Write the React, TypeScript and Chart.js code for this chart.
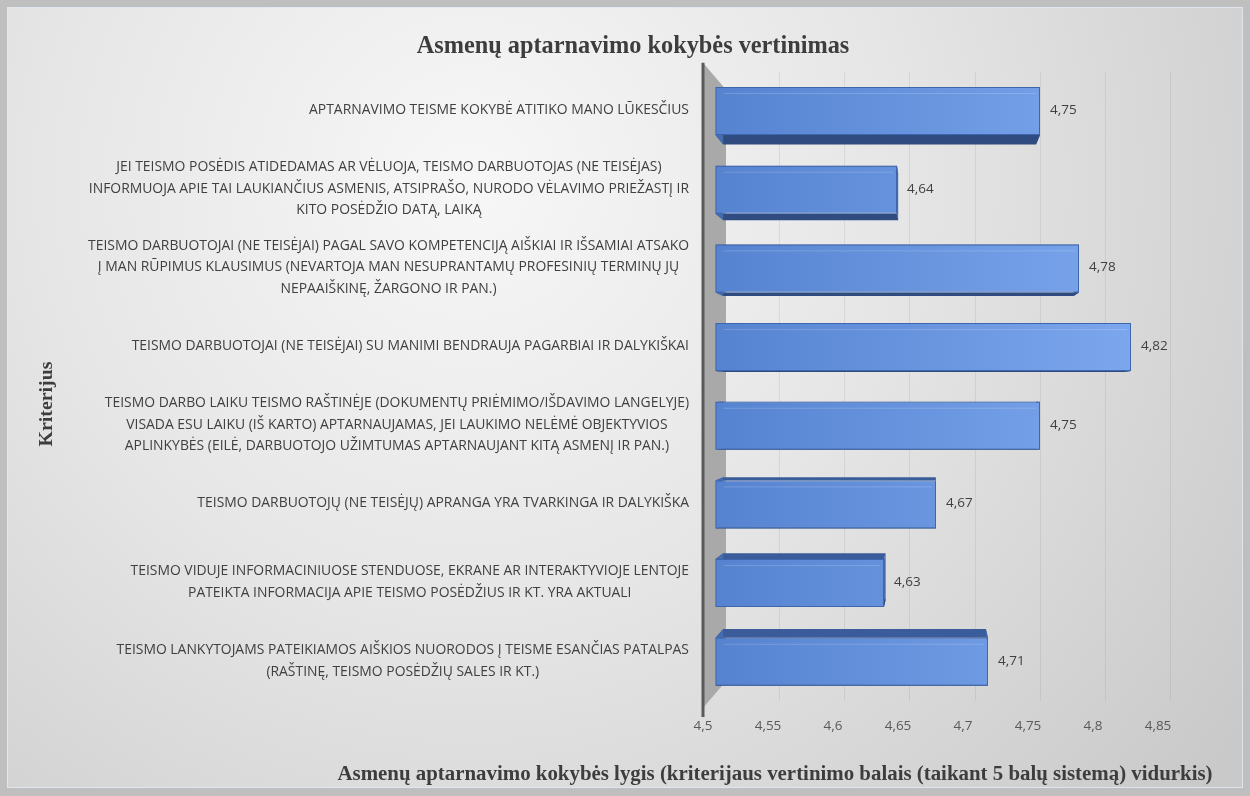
import { useEffect, useRef } from "react";
import { Chart, registerables } from "chart.js";

Chart.register(...registerables);

const chartTitle = "Asmenų aptarnavimo kokybės vertinimas";
const xAxisTitle =
  "Asmenų aptarnavimo kokybės lygis (kriterijaus vertinimo balais (taikant 5 balų sistemą) vidurkis)";
const yAxisTitle = "Kriterijus";

const categories: string[][] = [
  ["APTARNAVIMO TEISME KOKYBĖ ATITIKO MANO LŪKESČIUS"],
  [
    "JEI TEISMO POSĖDIS ATIDEDAMAS AR VĖLUOJA, TEISMO DARBUOTOJAS (NE TEISĖJAS)",
    "INFORMUOJA APIE TAI LAUKIANČIUS ASMENIS, ATSIPRAŠO, NURODO VĖLAVIMO PRIEŽASTĮ IR",
    "KITO POSĖDŽIO DATĄ, LAIKĄ",
  ],
  [
    "TEISMO DARBUOTOJAI (NE TEISĖJAI) PAGAL SAVO KOMPETENCIJĄ AIŠKIAI IR IŠSAMIAI ATSAKO",
    "Į MAN RŪPIMUS KLAUSIMUS (NEVARTOJA MAN NESUPRANTAMŲ PROFESINIŲ TERMINŲ JŲ",
    "NEPAAIŠKINĘ, ŽARGONO IR PAN.)",
  ],
  ["TEISMO DARBUOTOJAI (NE TEISĖJAI) SU MANIMI BENDRAUJA PAGARBIAI IR DALYKIŠKAI"],
  [
    "TEISMO DARBO LAIKU TEISMO RAŠTINĖJE (DOKUMENTŲ PRIĖMIMO/IŠDAVIMO LANGELYJE)",
    "VISADA ESU LAIKU (IŠ KARTO) APTARNAUJAMAS, JEI LAUKIMO NELĖMĖ OBJEKTYVIOS",
    "APLINKYBĖS (EILĖ, DARBUOTOJO UŽIMTUMAS APTARNAUJANT KITĄ ASMENĮ IR PAN.)",
  ],
  ["TEISMO DARBUOTOJŲ (NE TEISĖJŲ) APRANGA YRA TVARKINGA IR DALYKIŠKA"],
  [
    "TEISMO VIDUJE INFORMACINIUOSE STENDUOSE, EKRANE AR INTERAKTYVIOJE LENTOJE",
    "PATEIKTA INFORMACIJA APIE TEISMO POSĖDŽIUS IR KT. YRA AKTUALI",
  ],
  [
    "TEISMO LANKYTOJAMS PATEIKIAMOS AIŠKIOS NUORODOS Į TEISME ESANČIAS PATALPAS",
    "(RAŠTINĘ, TEISMO POSĖDŽIŲ SALES IR KT.)",
  ],
];

const values: number[] = [4.75, 4.64, 4.78, 4.82, 4.75, 4.67, 4.63, 4.71];

const xTickLabels: string[] = ["4,5", "4,55", "4,6", "4,65", "4,7", "4,75", "4,8", "4,85"];
const xMin = 4.5;
const xMax = 4.85;
const xStep = 0.05;

const SANS = "'Open Sans', 'Noto Sans', sans-serif";
const SERIF = "'Liberation Serif', 'DejaVu Serif', serif";

function fitSize(ctx: CanvasRenderingContext2D, text: string, family: string, weight: string, target: number) {
  const base = 20;
  ctx.font = `${weight} ${base}px ${family}`;
  const w = ctx.measureText(text).width;
  return (base * target) / w;
}

const VP = { x: 930, y: 395 };
const DEPTH = 0.036;

const backgroundPlugin = {
  id: "bgPanel",
  beforeDraw(chart: any) {
    const ctx: CanvasRenderingContext2D = chart.ctx;
    ctx.save();
    ctx.fillStyle = "#bfbfbf";
    ctx.fillRect(0, 0, chart.width, chart.height);
    const g = ctx.createRadialGradient(470, 180, 0, 470, 180, 950);
    g.addColorStop(0, "#f7f7f7");
    g.addColorStop(0.45, "#e6e6e6");
    g.addColorStop(1, "#c9c9c9");
    ctx.fillStyle = g;
    ctx.fillRect(7, 7, 1236, 781);
    ctx.strokeStyle = "rgba(225,232,240,0.9)";
    ctx.lineWidth = 1;
    ctx.strokeRect(7.5, 7.5, 1235, 780);
    ctx.restore();
  },
};

const wallPlugin = {
  id: "wall3d",
  beforeDatasetsDraw(chart: any) {
    const ctx: CanvasRenderingContext2D = chart.ctx;
    const area = chart.chartArea;
    const xl = area.left - 12;
    ctx.save();
    ctx.fillStyle = "#a9a9a9";
    ctx.beginPath();
    ctx.moveTo(xl, area.top - 9);
    ctx.lineTo(xl + 23, area.top + 18);
    ctx.lineTo(xl + 23, area.bottom - 20);
    ctx.lineTo(xl, area.bottom + 7);
    ctx.closePath();
    ctx.fill();
    ctx.strokeStyle = "#5a5a5a";
    ctx.lineWidth = 3;
    ctx.beginPath();
    ctx.moveTo(xl, area.top - 9);
    ctx.lineTo(xl, area.bottom + 16);
    ctx.stroke();

    // depth faces of the bars
    const meta = chart.getDatasetMeta(0);
    meta.data.forEach((bar: any) => {
      const { x, y, base, height } = bar.getProps(["x", "y", "base", "height"], true);
      const x0 = base;
      const x1 = x;
      const y0 = y - height / 2;
      const y1 = y + height / 2;
      const proj = (px: number, py: number): [number, number] => [
        px + (VP.x - px) * DEPTH,
        py + (VP.y - py) * DEPTH,
      ];
      const f: [number, number][] = [
        [x0, y0],
        [x1, y0],
        [x1, y1],
        [x0, y1],
      ];
      const b = f.map(([px, py]) => proj(px, py));
      const colors = ["#3a5c9a", "#466cb0", "#2f4b7f", "#466cb0"];
      for (let i = 0; i < 4; i++) {
        const j = (i + 1) % 4;
        ctx.fillStyle = colors[i];
        ctx.beginPath();
        ctx.moveTo(f[i][0], f[i][1]);
        ctx.lineTo(f[j][0], f[j][1]);
        ctx.lineTo(b[j][0], b[j][1]);
        ctx.lineTo(b[i][0], b[i][1]);
        ctx.closePath();
        ctx.fill();
      }
    });
    ctx.restore();
  },
};

const textPlugin = {
  id: "texts",
  afterDatasetsDraw(chart: any) {
    const ctx: CanvasRenderingContext2D = chart.ctx;
    const meta = chart.getDatasetMeta(0);
    ctx.save();
    meta.data.forEach((bar: any) => {
      const { x, y, base, height } = bar.getProps(["x", "y", "base", "height"], true);
      ctx.strokeStyle = "rgba(255,255,255,0.18)";
      ctx.lineWidth = 1;
      ctx.beginPath();
      ctx.moveTo(base + 8, y - height / 2 + 6.5);
      ctx.lineTo(x - 4, y - height / 2 + 6.5);
      ctx.stroke();
    });
    ctx.fillStyle = "#404040";
    ctx.font = `13.5px ${SANS}`;
    ctx.textAlign = "left";
    ctx.textBaseline = "middle";
    meta.data.forEach((bar: any, i: number) => {
      const { x, y } = bar.getProps(["x", "y"], true);
      ctx.fillText(String(values[i]).replace(".", ","), x + 10, y - 1);
    });
    ctx.restore();
  },
  afterDraw(chart: any) {
    const ctx: CanvasRenderingContext2D = chart.ctx;
    const meta = chart.getDatasetMeta(0);
    ctx.save();
    const labelSize = fitSize(ctx, categories[4][0], SANS, "normal", 585);
    ctx.font = `${labelSize}px ${SANS}`;
    ctx.fillStyle = "#404040";
    ctx.textAlign = "center";
    ctx.textBaseline = "middle";
    const rightEdge = 689;
    const lineH = 21.7;
    categories.forEach((lines, i) => {
      const bar = meta.data[i];
      if (!bar) return;
      const cy = bar.getProps(["y"], true).y - 1;
      const widest = Math.max(...lines.map((l) => ctx.measureText(l).width));
      const cx = rightEdge - widest / 2;
      lines.forEach((l, k) => {
        ctx.fillText(l, cx, cy + (k - (lines.length - 1) / 2) * lineH);
      });
    });

    ctx.fillStyle = "#3d3d3d";
    const tSize = fitSize(ctx, chartTitle, SERIF, "bold", 433);
    ctx.font = `bold ${tSize}px ${SERIF}`;
    ctx.fillText(chartTitle, 633, 47);

    const xs = fitSize(ctx, xAxisTitle, SERIF, "bold", 876);
    ctx.font = `bold ${xs}px ${SERIF}`;
    ctx.fillText(xAxisTitle, 775, 775);

    const ys = fitSize(ctx, yAxisTitle, SERIF, "bold", 85);
    ctx.font = `bold ${ys}px ${SERIF}`;
    ctx.translate(47, 404);
    ctx.rotate(-Math.PI / 2);
    ctx.fillText(yAxisTitle, 0, 0);
    ctx.restore();
  },
};

export default function App() {
  const canvasRef = useRef<HTMLCanvasElement | null>(null);

  useEffect(() => {
    if (!canvasRef.current) return;
    const chart = new Chart(canvasRef.current, {
      type: "bar",
      data: {
        labels: categories.map((c) => c.join(" ")),
        datasets: [
          {
            data: values,
            base: xMin,
            backgroundColor: (c: any) => {
              const area = c.chart.chartArea;
              if (!area) return "#5b88d4";
              const g = c.chart.ctx.createLinearGradient(area.left, 0, area.right, 0);
              g.addColorStop(0, "#5683d0");
              g.addColorStop(1, "#7faaf1");
              return g;
            },
            borderColor: "#3e66ad",
            borderWidth: 1,
            borderSkipped: false,
            barPercentage: 0.61,
            categoryPercentage: 1,
          } as any,
        ],
      },
      options: {
        indexAxis: "y",
        responsive: false,
        animation: false,
        layout: {
          padding: { left: 715, right: 80, top: 71.7, bottom: 44.7 },
        },
        plugins: {
          legend: { display: false },
          title: { display: false },
          tooltip: { enabled: false },
        },
        scales: {
          x: {
            type: "linear",
            min: xMin,
            max: xMax,
            border: { display: false },
            grid: {
              color: (c: any) => (c.index === 0 ? "rgba(0,0,0,0)" : "rgba(110,110,110,0.14)"),
              drawTicks: false,
            },
            ticks: {
              stepSize: xStep,
              padding: 17,
              labelOffset: -12,
              color: "#595959",
              font: { family: SANS, size: 13.5 },
              callback: (_v: any, i: number) => xTickLabels[i],
            },
          },
          y: {
            display: false,
          },
        },
      },
      plugins: [backgroundPlugin, wallPlugin, textPlugin],
    } as any);
    return () => chart.destroy();
  }, []);

  return (
    <div style={{ position: "absolute", left: 0, top: 0, width: 1250, height: 796 }}>
      <canvas ref={canvasRef} width={1250} height={796} />
    </div>
  );
}
